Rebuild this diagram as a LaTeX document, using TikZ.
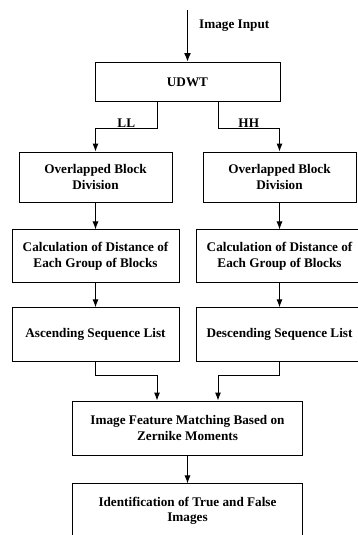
\documentclass[tikz,border=0pt]{standalone}
\usepackage{fontspec}
\setmainfont{Liberation Serif}
\usetikzlibrary{positioning}
\usetikzlibrary{arrows.meta}
\tikzset{
	block/.style={draw, rectangle, inner sep=2pt, line width=0.9pt, align=center, font=\fontsize{13.2pt}{15.5pt}\selectfont\bfseries},
	wide/.style={minimum width=185pt, minimum height=39pt},
	half/.style={minimum width=153pt, minimum height=50pt},
	col/.style={minimum width=167pt, minimum height=53pt},
	bottom/.style={minimum width=230pt, minimum height=54pt},
	% for branch labels
	tag/.style={inner sep=1pt, font=\fontsize{13.2pt}{15.5pt}\selectfont\bfseries},
}

\begin{document}
\begin{tikzpicture}
			\useasboundingbox (0,0) rectangle (357pt,-535pt);
			
			\coordinate (in) at (187.5pt,-10pt);
			\node (inlbl) [tag, anchor=west] at (198pt,-26pt) {Image Input};
			
			\node (udwt) [block, wide] at (187.5pt,-82pt) {UDWT};
			
			\node (ob1) [block, half] at (95.5pt,-177pt) {Overlapped Block\\Division};
			\node (calc1) [block, col, below=27pt of ob1] {Calculation of Distance of\\Each Group of Blocks};
			\node (seq1) [block, col, minimum height=54pt, below=24pt of calc1] {Ascending Sequence List};
			
			\node (ob2) [block, half] at (279.5pt,-177pt) {Overlapped Block\\Division};
			\node (calc2) [block, col, below=27pt of ob2] {Calculation of Distance of\\Each Group of Blocks};
			\node (seq2) [block, col, minimum height=54pt, below=24pt of calc2] {Descending Sequence List};
			
			\node (zm) [block, bottom] at (187.5pt,-428pt) {Image Feature Matching Based on\\Zernike Moments};
			\node (idf) [block, bottom, below=28pt of zm] {Identification of True and False\\Images};
			
			\begin{scope}[black, line width=0.9pt, ->, >={Latex[length=8pt, width=6pt]}]
				\draw [line width=1.8pt, >={Latex[length=9pt, width=7pt]}] (in) -- (udwt);
				
				\draw ([xshift=-30.5pt]udwt.south) -- ++(0,-26.5pt) -| (ob1) node [pos=0.25, above, tag] {LL};
				\draw ([xshift=30.5pt]udwt.south) -- ++(0,-26.5pt) -| (ob2) node [pos=0.25, above, tag] {HH};
				
				\draw (ob1) -- (calc1);
				\draw (calc1) -- (seq1);
				\draw (ob2) -- (calc2);
				\draw (calc2) -- (seq2);
				
				\draw (seq1.south) -- ++(0,-13pt) -| ([xshift=-30.5pt]zm.north);
				\draw (seq2.south) -- ++(0,-13pt) -| ([xshift=30.5pt]zm.north);
				
				\draw (zm) -- (idf);
			\end{scope}
			
		\end{tikzpicture}
\end{document}
